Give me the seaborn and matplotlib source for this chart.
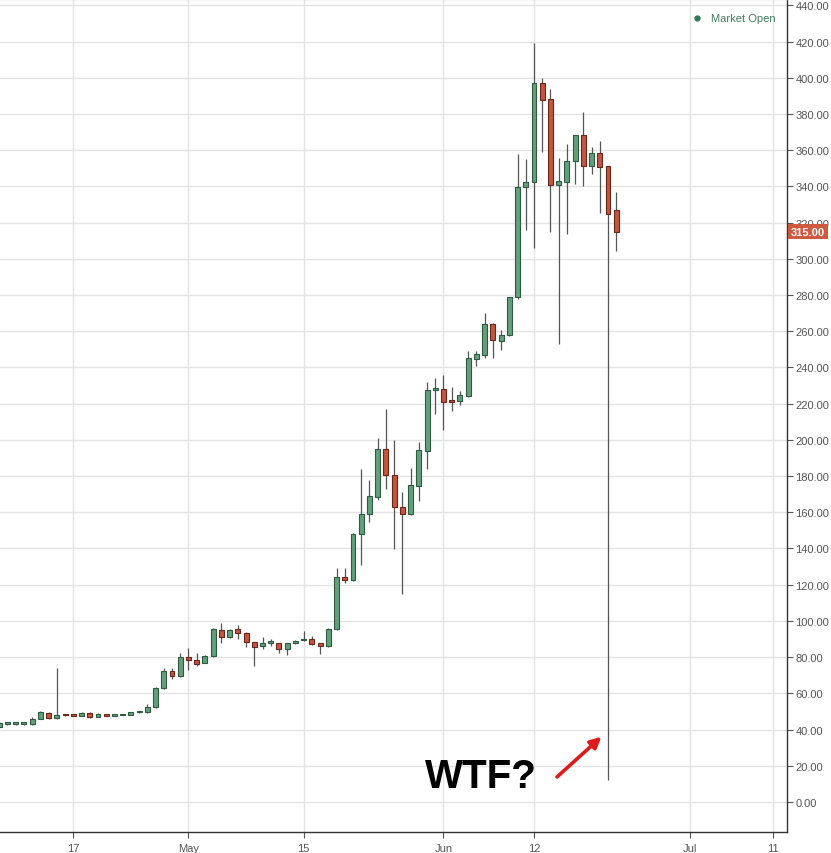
import pandas as pd
import numpy as np
import matplotlib
matplotlib.use("Agg")
import matplotlib.pyplot as plt
import matplotlib.dates as mdates
import seaborn as sns

# ── Data: daily OHLC (Apr 8 – Jun 22) ────────────────────────
start_date = "2017-04-08"
opens = [41.5, 43.0, 43.0, 43.0, 42.8, 46.0, 49.1, 46.3, 48.0, 47.6,
         47.4, 49.3, 46.9, 48.5, 47.6, 47.9, 48.0, 49.4, 49.6, 52.4,
         62.9, 72.1, 69.3, 80.0, 78.6, 76.8, 80.4, 94.8, 91.1, 95.3,
         93.5, 88.3, 85.9, 87.9, 87.8, 84.3, 87.8, 89.3, 89.8, 87.6,
         86.0, 95.5, 124.2, 122.4, 148.0, 159.2, 168.4, 195.1, 180.8, 163.1,
         158.9, 174.5, 193.7, 227.5, 228.3, 221.0, 221.6, 224.0, 244.9, 247.0,
         264.0, 254.7, 258.0, 278.7, 339.6, 342.5, 397.3, 388.0, 341.0, 342.5,
         353.9, 368.3, 351.2, 358.6, 351.2, 327.2]
highs = [44.5, 44.0, 43.5, 43.5, 47.0, 50.4, 49.5, 74.0, 48.5, 47.8,
         49.5, 49.8, 49.0, 48.8, 48.0, 48.5, 49.8, 50.5, 54.0, 63.5,
         74.0, 74.0, 82.4, 85.2, 82.4, 81.0, 95.8, 98.8, 95.5, 97.5,
         93.8, 88.6, 91.1, 90.1, 88.0, 87.9, 89.6, 94.2, 91.6, 88.0,
         95.8, 129.2, 129.2, 148.5, 184.0, 177.6, 201.2, 217.2, 199.7, 171.2,
         184.5, 198.8, 232.0, 234.0, 236.0, 229.0, 227.0, 249.0, 249.2, 270.0,
         264.5, 260.8, 279.0, 358.0, 354.9, 419.4, 399.7, 394.0, 355.8, 363.5,
         368.5, 381.3, 361.7, 365.0, 351.5, 337.0]
lows = [41.0, 42.5, 42.5, 42.6, 42.5, 45.8, 46.0, 46.0, 47.5, 47.2,
        47.2, 46.5, 46.7, 47.2, 47.5, 47.8, 47.8, 49.2, 49.3, 52.0,
        62.5, 68.0, 69.0, 72.6, 75.0, 76.5, 80.2, 88.0, 90.8, 90.2,
        85.6, 75.1, 84.7, 86.4, 82.4, 81.3, 87.2, 89.0, 86.9, 81.9,
        85.8, 95.0, 121.0, 122.0, 130.7, 154.6, 167.0, 173.0, 139.5, 115.0,
        158.5, 166.0, 184.0, 214.5, 205.3, 216.0, 219.0, 223.5, 241.0, 245.0,
        245.0, 249.7, 257.5, 278.0, 316.1, 306.0, 359.1, 314.8, 252.8, 313.7,
        341.4, 340.1, 346.6, 325.4, 12.0, 304.5]
closes = [43.5, 43.3, 43.1, 43.1, 46.0, 49.7, 46.3, 48.2, 47.8, 47.4,
          49.1, 46.7, 48.7, 47.4, 47.8, 48.2, 49.5, 49.7, 52.6, 63.1,
          72.3, 69.5, 79.9, 78.2, 76.4, 80.6, 95.3, 91.1, 95.1, 93.3,
          88.3, 85.6, 87.8, 88.1, 84.3, 87.8, 89.1, 89.8, 87.2, 86.1,
          95.5, 124.2, 122.4, 148.2, 159.2, 169.0, 195.1, 180.4, 162.9, 158.9,
          174.9, 194.2, 227.7, 227.9, 220.9, 220.9, 224.6, 245.2, 247.5, 264.0,
          255.0, 258.0, 278.7, 339.6, 342.3, 397.3, 387.5, 341.0, 342.9, 353.9,
          368.3, 351.2, 358.6, 350.6, 324.8, 315.0]

last_price = 315.00
tick_dates = ["2017-04-17", "2017-05-01", "2017-05-15", "2017-06-01",
              "2017-06-12", "2017-07-01", "2017-07-11"]
tick_labels = ["17", "May", "15", "Jun", "12", "Jul", "11"]
y_ticks = list(range(0, 441, 20))

UP_FILL, UP_EDGE = "#62a07c", "#2f5a40"
DN_FILL, DN_EDGE = "#c4553f", "#6a2618"
WICK = "#555555"

# ── Figure ───────────────────────────────────────────────────
sns.set_theme(style="whitegrid")
plt.rcParams["font.family"] = ["Liberation Sans", "DejaVu Sans"]

fig = plt.figure(figsize=(8.31, 8.54), dpi=100)
ax = fig.add_axes([0.0, 0.0246, 0.947, 0.975])

df = pd.DataFrame({"open": opens, "high": highs, "low": lows, "close": closes})
df["date"] = pd.date_range(start_date, periods=len(df), freq="D")
df["x"] = mdates.date2num(df["date"])
df["up"] = df["close"] >= df["open"]
df["bottom"] = df[["open", "close"]].min(axis=1)
df["body"] = (df["close"] - df["open"]).abs().clip(lower=0.9)

# wicks first, bodies on top
ax.vlines(df["x"], df["low"], df["high"], color=WICK, lw=0.9, zorder=2)
ax.bar(df["x"], df["body"], bottom=df["bottom"], width=0.6,
       color=np.where(df["up"], UP_FILL, DN_FILL),
       edgecolor=np.where(df["up"], UP_EDGE, DN_EDGE),
       linewidth=0.8, zorder=3)

# axis ranges
ref = mdates.date2num(pd.Timestamp("2017-04-17"))
ax.set_xlim(ref - 8.91, ref + 86.75)
ax.set_ylim(-16.6, 443.3)

# x axis
ax.set_xticks(mdates.date2num(pd.to_datetime(tick_dates)))
ax.set_xticklabels(tick_labels)
# y axis on the right
ax.yaxis.tick_right()
ax.set_yticks(y_ticks)
ax.set_yticklabels([f"{v:.2f}" for v in y_ticks])

ax.tick_params(axis="both", labelsize=8, labelcolor="#555555", colors="#555555",
               length=4, width=0.8, direction="out", pad=2)
ax.tick_params(axis="x", bottom=True, pad=4)
ax.tick_params(axis="y", right=True, left=False)

ax.grid(True, color="#e4e4e4", lw=1)
ax.set_axisbelow(True)
ax.spines["left"].set_visible(False)
ax.spines["top"].set_color("#d0d0d0")
ax.spines["right"].set_color("#333333")
ax.spines["bottom"].set_color("#333333")
for s in ["right", "bottom", "top"]:
    ax.spines[s].set_linewidth(1)

# last price tag (covers the 320 label, as in the original)
ax.annotate(f"{last_price:.2f}", xy=(1.0, last_price),
            xycoords=ax.get_yaxis_transform(), xytext=(3, 0),
            textcoords="offset points", ha="left", va="center",
            fontsize=8, color="white", fontweight="bold",
            bbox=dict(boxstyle="square,pad=0.25", fc="#cf5a3f", ec="none"),
            annotation_clip=False, zorder=6)

# "Market Open" badge
ax.text(0.986, 0.978, "Market Open", transform=ax.transAxes, ha="right",
        va="center", fontsize=8, color="#3f7a62")
ax.plot([0.886], [0.978], "o", transform=ax.transAxes, ms=3.5,
        color="#2f7a55", zorder=6)

# annotation
ax.text(ref + 49.6, 14.5, "WTF?", ha="center", va="center",
        fontsize=29, fontweight="bold", color="black", zorder=7)
ax.annotate("", xy=(ref + 64.2, 36.0), xytext=(ref + 58.8, 13.8),
            arrowprops=dict(arrowstyle="-|>", color="#e01a1a", lw=2.6,
                            mutation_scale=16, shrinkA=0, shrinkB=0),
            zorder=7)

fig.savefig("out.png", dpi=100)
